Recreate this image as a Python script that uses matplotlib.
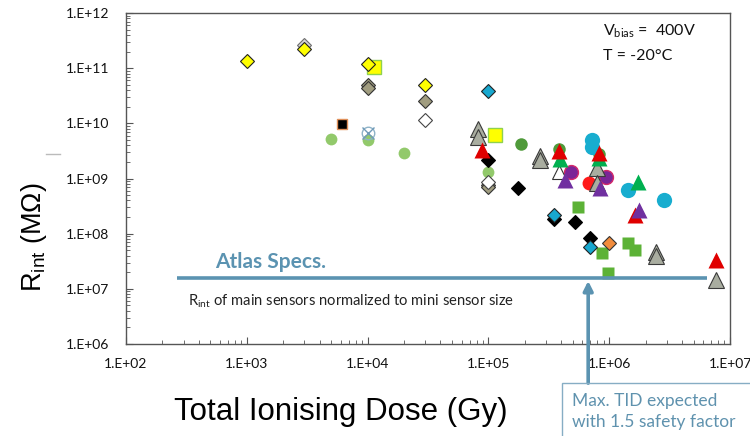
import numpy as np
import matplotlib
matplotlib.use("Agg")
import matplotlib.pyplot as plt
from matplotlib.ticker import FixedLocator, FuncFormatter, NullFormatter
from matplotlib.patches import Rectangle
from matplotlib.lines import Line2D

plt.rcParams['font.family'] = ['Lato', 'DejaVu Sans']

# ---- measured points: dose (Gy) vs interstrip resistance (MOhm) ----
yel_dia_x = [1e3, 3e3, 1e4, 3e4]
yel_dia_y = [1.35e11, 2.2e11, 1.2e11, 4.9e10]
gry_dia_x = [3e3]
gry_dia_y = [2.6e11]
kha_dia_x = [1e4, 1e4, 3e4, 1e5, 1e5]
kha_dia_y = [4.9e10, 4.3e10, 2.5e10, 7.6e8, 6.9e8]
wht_dia_x = [3e4, 1e5]
wht_dia_y = [1.17e10, 8.7e8]
blk_dia_x = [1e5, 1.75e5, 3.5e5, 5.2e5, 6.9e5]
blk_dia_y = [2.15e9, 6.6e8, 1.85e8, 1.65e8, 8.4e7]
cya_dia_x = [1e5, 3.5e5, 6.9e5]
cya_dia_y = [3.8e10, 2.15e8, 5.8e7]
org_dia_x = [1e6]
org_dia_y = [6.8e7]

yel_sq_x = [1.13e4, 1.13e5]
yel_sq_y = [1.05e11, 6.1e9]
blk_sq_x = [6.1e3]
blk_sq_y = [9.6e9]
grn_sq_x = [5.5e5, 8.8e5, 1.42e6, 1.63e6, 9.8e5]
grn_sq_y = [3.0e8, 4.5e7, 6.8e7, 5.0e7, 1.9e7]

lgr_circ_x = [5e3, 1e4, 2e4, 1e5]
lgr_circ_y = [5.2e9, 5.0e9, 2.9e9, 1.3e9]
open_circ_x = [1e4]
open_circ_y = [6.6e9]
dgr_circ_x = [1.86e5, 3.85e5, 8.3e5]
dgr_circ_y = [4.3e9, 3.4e9, 2.8e9]
cya_circ_x = [7.2e5, 7.2e5, 1.42e6, 2.84e6]
cya_circ_y = [5.0e9, 3.7e9, 6.2e8, 4.0e8]
red_circ_x = [6.8e5]
red_circ_y = [8.4e8]
pur_circ_x = [4.8e5, 9.4e5]
pur_circ_y = [1.3e9, 1.08e9]

gry_tri_x = [8.2e4, 8.2e4, 2.67e5, 2.67e5, 8.0e5, 8.0e5, 2.46e6, 2.46e6, 7.7e6]
gry_tri_y = [8.0e9, 5.6e9, 2.6e9, 2.2e9, 1.55e9, 8.4e8, 4.6e7, 3.9e7, 1.45e7]
wht_tri_x = [3.85e5]
wht_tri_y = [1.3e9]
red_tri_x = [8.8e4, 3.85e5, 8.3e5, 1.65e6, 7.7e6]
red_tri_y = [3.3e9, 3.1e9, 2.9e9, 2.2e8, 3.3e7]
grn_tri_x = [3.95e5, 8.3e5, 1.72e6]
grn_tri_y = [2.25e9, 2.4e9, 8.5e8]
pur_tri_x = [4.3e5, 8.4e5, 1.75e6]
pur_tri_y = [9.4e8, 6.8e8, 2.65e8]

# ATLAS requirement and max expected dose
spec_value = 1.6e7
spec_range = [263, 6.4e6]
tid_max = 6.7e5

x_ticks = [1e2, 1e3, 1e4, 1e5, 1e6, 1e7]
y_ticks = [1e6, 1e7, 1e8, 1e9, 1e10, 1e11, 1e12]

fig = plt.figure(figsize=(7.5, 4.36), dpi=100)
ax = fig.add_axes([126/750, 1-344/436, 604/750, 331/436])
ax.set_xscale('log')
ax.set_yscale('log')
ax.set_xlim(x_ticks[0], x_ticks[-1])
ax.set_ylim(y_ticks[0], y_ticks[-1])

def pts(x, y, m, fc, ec='none', ms=8, mew=0.8, z=3):
    ax.plot(x, y, ls='none', marker=m, ms=ms, mfc=fc, mec=ec, mew=mew, zorder=z)

# circles
pts(lgr_circ_x, lgr_circ_y, 'o', '#92c96b', ms=8.5)
pts(open_circ_x, open_circ_y, 'o', 'none', '#8fb3c8', ms=9, mew=1)
pts(open_circ_x, open_circ_y, 'x', 'none', '#6f9ab8', ms=9, mew=1)
pts(dgr_circ_x, dgr_circ_y, 'o', '#4f9a3a', ms=9)
pts(cya_circ_x, cya_circ_y, 'o', '#18adcf', ms=11)
pts(red_circ_x, red_circ_y, 'o', '#ff1a1a', ms=10)
pts(pur_circ_x, pur_circ_y, 'o', '#7b2597', '#d42a6a', ms=10, mew=1)

# squares
pts(yel_sq_x, yel_sq_y, 's', '#ffff00', '#8fd14f', ms=10, mew=1)
pts(blk_sq_x, blk_sq_y, 's', '#000000', '#e0905a', ms=7.5, mew=1)
pts(grn_sq_x, grn_sq_y, 's', '#5cb236', ms=8.5)

# diamonds
pts(gry_dia_x, gry_dia_y, 'D', '#d4d4d4', '#6e6e6e', ms=7.5)
pts(yel_dia_x, yel_dia_y, 'D', '#ffff00', '#222222', ms=7.5)
pts(kha_dia_x, kha_dia_y, 'D', '#a19d80', '#333333', ms=7.5)
pts(wht_dia_x, wht_dia_y, 'D', '#ffffff', '#444444', ms=7.5)
pts(blk_dia_x, blk_dia_y, 'D', '#000000', '#000000', ms=7.5)
pts(cya_dia_x, cya_dia_y, 'D', '#18a8cf', '#222222', ms=7.5)
pts(org_dia_x, org_dia_y, 'D', '#f28c3c', '#333333', ms=7.5)

# triangles
pts(gry_tri_x, gry_tri_y, '^', '#a9ada0', '#3a3a3a', ms=11)
pts(wht_tri_x, wht_tri_y, '^', '#ffffff', '#333333', ms=10)
pts(grn_tri_x, grn_tri_y, '^', '#00b050', ms=11, z=4)
pts(red_tri_x, red_tri_y, '^', '#e00000', ms=11, z=4)
pts(pur_tri_x, pur_tri_y, '^', '#7030a0', ms=11, z=4)

# spec line and dose arrow
blue = '#5b93b1'
ax.plot(spec_range, [spec_value, spec_value], color=blue, lw=2.6, zorder=5,
        solid_capstyle='butt')
ax.annotate('', xy=(tid_max, spec_value*0.87), xytext=(tid_max, 1.95e5),
            xycoords='data', textcoords='data', annotation_clip=False,
            arrowprops=dict(arrowstyle='-|>', color=blue, lw=2.6,
                            mutation_scale=14, shrinkA=0, shrinkB=0), zorder=6)

ax.text(1.58e3, 3.1e7, 'Atlas Specs.', color=blue, fontsize=15, fontweight='bold',
        ha='center', va='center')
ax.text(3.26e2, 5.9e6, r'$\mathregular{R_{int}}$ of main sensors normalized to mini sensor size',
        fontsize=10.6, ha='left', va='center', color='#222222')
ax.text(0.789, 0.945, r'V$\mathregular{_{bias}}$ =  400V', transform=ax.transAxes,
        fontsize=11.5, ha='left', va='center', color='#111111')
ax.text(0.789, 0.870, 'T = -20°C', transform=ax.transAxes,
        fontsize=11.5, ha='left', va='center', color='#111111')

# axes styling
for s in ax.spines.values():
    s.set_color('#555555')
    s.set_linewidth(1.0)
fmt = FuncFormatter(lambda v, p: '1.E+%02d' % int(round(np.log10(v))))
minor_x = [m * d for d in x_ticks[:-1] for m in range(2, 10)]
minor_y = [m * d for d in y_ticks[:-1] for m in range(2, 10)]
ax.xaxis.set_major_locator(FixedLocator(x_ticks))
ax.yaxis.set_major_locator(FixedLocator(y_ticks))
ax.xaxis.set_minor_locator(FixedLocator(minor_x))
ax.yaxis.set_minor_locator(FixedLocator(minor_y))
ax.xaxis.set_major_formatter(fmt)
ax.yaxis.set_major_formatter(fmt)
ax.xaxis.set_minor_formatter(NullFormatter())
ax.yaxis.set_minor_formatter(NullFormatter())
ax.tick_params(which='both', direction='in', colors='#555555', labelcolor='#111111',
               labelsize=10)
ax.tick_params(which='major', length=5, width=0.8)
ax.tick_params(which='minor', length=3, width=0.6)
ax.tick_params(axis='x', pad=10)
ax.tick_params(axis='y', pad=12)

fig.text(341/750, 1-412/436, 'Total Ionising Dose (Gy)', fontsize=22.5,
         family='Liberation Sans', ha='center', va='center')
fig.text(34/750, 1-237/436, r'$\mathregular{R_{int}}$ (MΩ)', fontsize=19.5,
         family='Liberation Sans', ha='center', va='center', rotation=90)
fig.add_artist(Line2D([46/750, 60/750], [1-154/436, 1-154/436], color='#bbbbbb', lw=1))

# note box for the dose arrow
fig.add_artist(Rectangle((562/750, -0.05), 0.3, 1-383/436+0.05, transform=fig.transFigure,
                         fill=False, ec='#86adc4', lw=1.0))
fig.text(572/750, 1-401/436, 'Max. TID expected', color='#5f92ae', fontsize=12.5,
         ha='left', va='center')
fig.text(572/750, 1-422/436, 'with 1.5 safety factor', color='#5f92ae', fontsize=12.5,
         ha='left', va='center')

fig.savefig('out.png', dpi=100)
